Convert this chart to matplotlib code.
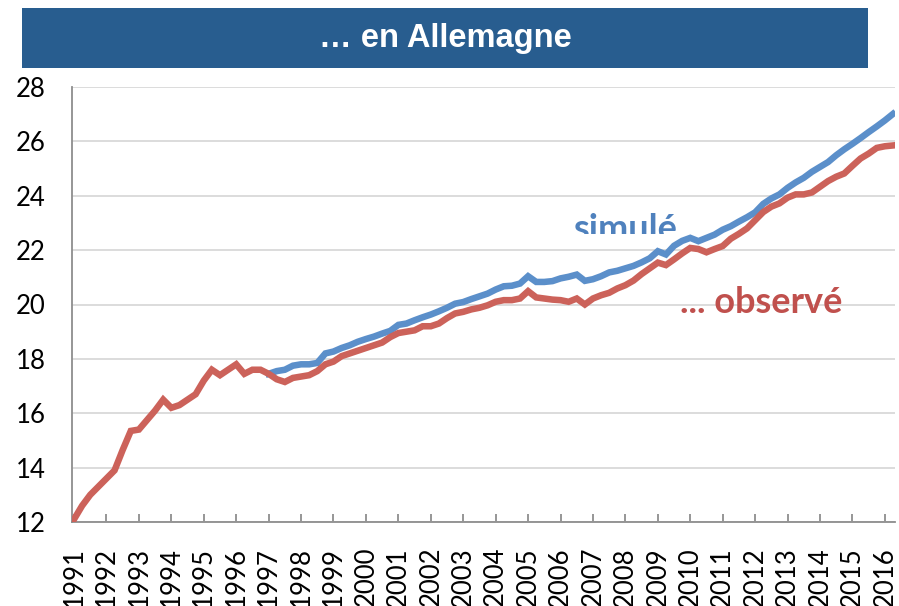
import numpy as np
import matplotlib
matplotlib.use("Agg")
import matplotlib.pyplot as plt
from matplotlib.patches import Rectangle
from matplotlib.transforms import Bbox, TransformedBbox

# données trimestrielles, de 1991T1 à 2016T2
annees = [str(a) for a in range(1991, 2017)]

observe = [
    12.1, 12.6, 13.0, 13.3, 13.6, 13.9, 14.65, 15.35,
    15.4, 15.75, 16.1, 16.5, 16.2, 16.3, 16.5, 16.7,
    17.2, 17.6, 17.4, 17.6, 17.8, 17.45, 17.6, 17.6,
    17.45, 17.25, 17.15, 17.3, 17.35, 17.4, 17.55, 17.8,
    17.9, 18.1, 18.2, 18.3, 18.4, 18.5, 18.6, 18.8,
    18.95, 19.0, 19.05, 19.2, 19.2, 19.3, 19.5, 19.67,
    19.73, 19.82, 19.88, 19.97, 20.1, 20.16, 20.16, 20.22,
    20.49, 20.26, 20.22, 20.18, 20.16, 20.1, 20.22, 20.0,
    20.22, 20.34, 20.43, 20.59, 20.71, 20.88, 21.12, 21.33,
    21.54, 21.45, 21.66, 21.88, 22.08, 22.04, 21.92, 22.04,
    22.15, 22.42, 22.6, 22.8, 23.1, 23.4, 23.6, 23.72,
    23.93, 24.05, 24.05, 24.12, 24.33, 24.54, 24.7, 24.82,
    25.1, 25.37, 25.55, 25.76, 25.82, 25.85,
]

# la simulation démarre au 1er trimestre 1997
debut_simule = 24
simule = [
    17.45, 17.55, 17.6, 17.75, 17.8, 17.8, 17.85, 18.2,
    18.27, 18.4, 18.5, 18.63, 18.73, 18.82, 18.93, 19.03,
    19.25, 19.3, 19.42, 19.53, 19.63, 19.75, 19.88, 20.03,
    20.09, 20.2, 20.3, 20.4, 20.55, 20.67, 20.69, 20.77,
    21.04, 20.83, 20.83, 20.86, 20.96, 21.02, 21.1, 20.87,
    20.93, 21.04, 21.18, 21.24, 21.33, 21.42, 21.55, 21.7,
    21.96, 21.84, 22.16, 22.34, 22.45, 22.33, 22.45, 22.57,
    22.75, 22.88, 23.05, 23.21, 23.39, 23.7, 23.9, 24.05,
    24.29, 24.49, 24.66, 24.88, 25.06, 25.24, 25.49, 25.71,
    25.91, 26.12, 26.34, 26.55, 26.77, 27.01,
]

bleu = "#5b8fca"
rouge = "#cc625a"
gris_axe = "#8e8e8e"
gris_grille = "#d9d9d9"

x_obs = np.arange(len(observe))
x_sim = np.arange(debut_simule, debut_simule + len(simule))

fig = plt.figure(figsize=(8.99, 6.06), dpi=100)

# bandeau de titre
fig.patches.append(Rectangle((22 / 899, 1 - 68 / 606), 846 / 899, 60 / 606,
                             transform=fig.transFigure, facecolor="#285d8f",
                             edgecolor="none", zorder=0))
fig.text(445 / 899, 1 - 39 / 606, "… en Allemagne", color="white",
         fontsize=23.5, fontweight="bold", family="Liberation Sans",
         ha="center", va="center")

ax = fig.add_axes([72 / 899, 84 / 606, 823 / 899, 435 / 606])

ax.plot(x_sim, simule, color=bleu, linewidth=4.7, solid_joinstyle="miter", zorder=3)
ax.plot(x_obs, observe, color=rouge, linewidth=4.7, solid_joinstyle="miter", zorder=4)

ax.set_xlim(-0.25, len(observe) - 1 + 0.25)
ax.set_ylim(12, 28)
ax.set_yticks(np.arange(12, 29, 2))
ax.set_xticks(np.arange(0, len(observe), 4))
ax.set_xticklabels(annees, rotation=90, fontsize=18.5, family="Lato")
for lab in ax.get_yticklabels():
    lab.set_fontsize(18.5)
    lab.set_family("Lato")

ax.yaxis.grid(True, color=gris_grille, linewidth=1.3)
ax.set_axisbelow(True)
for cote in ["top", "right"]:
    ax.spines[cote].set_visible(False)
for cote in ["left", "bottom"]:
    ax.spines[cote].set_color(gris_axe)
    ax.spines[cote].set_linewidth(1.3)

ax.tick_params(axis="y", length=0, pad=19)
ax.tick_params(axis="x", direction="in", length=6, width=1.3, color=gris_axe, pad=18)

# étiquettes des séries (le bas de « simulé » est coupé, comme dans l'original)
t = fig.text(573 / 899, 1 - 240 / 606, "simulé", color="#4f81bd", fontsize=26,
             fontweight="bold", family="Lato", ha="left", va="baseline")
t.set_clip_box(TransformedBbox(Bbox([[0, 1 - 234 / 606], [1, 1]]), fig.transFigure))
t.set_clip_on(True)

fig.text(680 / 899, 1 - 313 / 606, "... observé", color="#c0504d", fontsize=26,
         fontweight="bold", family="Lato", ha="left", va="baseline")

fig.savefig("out.png", dpi=100)
